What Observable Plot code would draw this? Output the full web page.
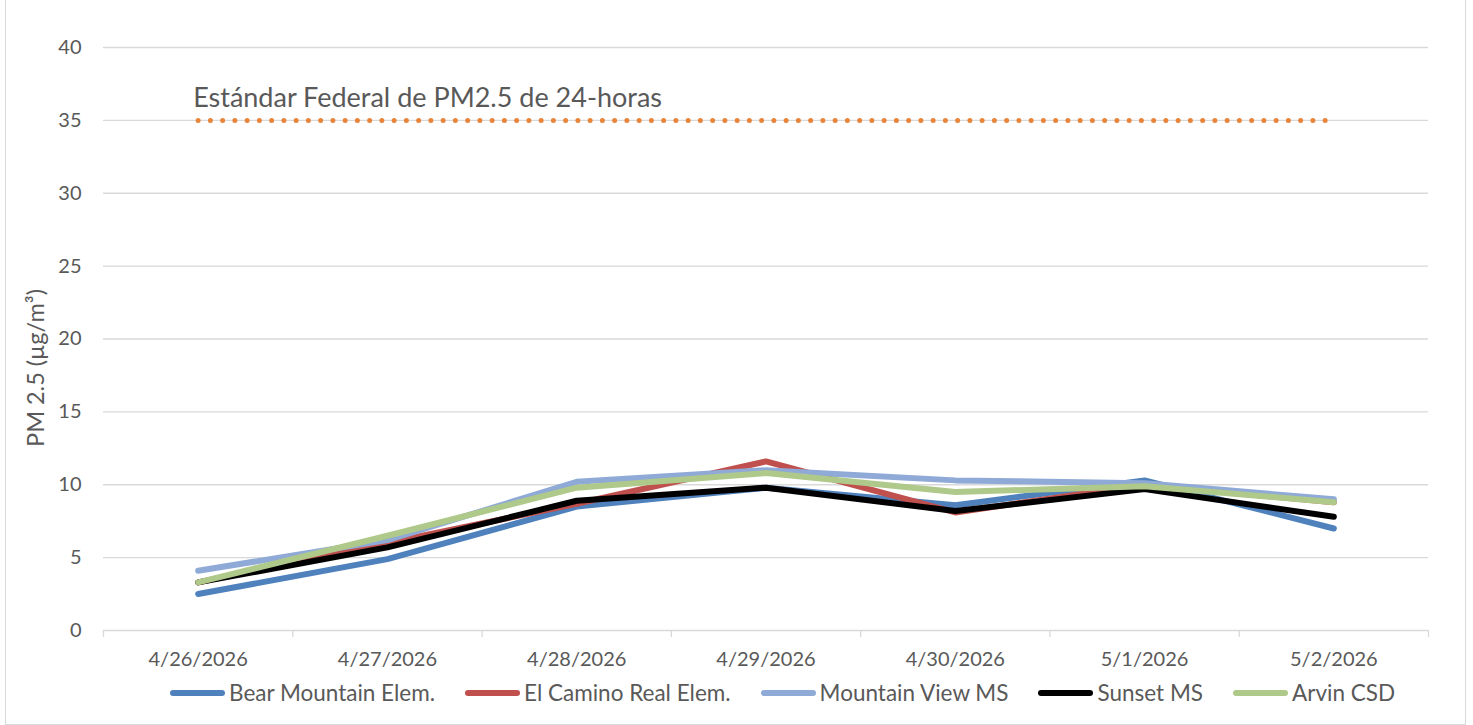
<!DOCTYPE html>
<html>
<head>
<meta charset="utf-8">
<script src="https://cdn.jsdelivr.net/npm/d3@7"></script>
<script src="https://cdn.jsdelivr.net/npm/@observablehq/plot@0.6"></script>
<style>
  html, body { margin: 0; padding: 0; background: #fff; }
  body { width: 1473px; height: 725px; position: relative; overflow: hidden; font-family: Lato, "Open Sans", sans-serif; }
  #frame { position: absolute; left: 5px; top: -1px; width: 1461px; height: 726px; border: 1px solid #d9d9d9; box-sizing: border-box; pointer-events: none; }
  #chart { position: absolute; left: 0; top: 0; }
  #legend { position: absolute; left: 170px; top: 679px; display: flex; align-items: center; gap: 30px; font-size: 22.5px; color: #595959; white-space: nowrap; }
  .item { display: flex; align-items: center; gap: 4px; }
  .sw { width: 55px; height: 6px; border-radius: 3px; }
</style>
</head>
<body>
<div id="chart"></div>
<div id="legend"></div>
<div id="frame"></div>
<script>
const dates = ["4/26/2026", "4/27/2026", "4/28/2026", "4/29/2026", "4/30/2026", "5/1/2026", "5/2/2026"];
const seriesNames = ["Bear Mountain Elem.", "El Camino Real Elem.", "Mountain View MS", "Sunset MS", "Arvin CSD"];
const seriesColors = ["#4F81BD", "#C0504D", "#8FAAD6", "#000000", "#AFC98A"];
const bearMountain = [2.5, 4.9, 8.5, 9.8, 8.6, 10.3, 7.0];
const elCamino     = [3.3, 6.0, 8.7, 11.6, 8.1, 10.0, 8.8];
const mountainView = [4.1, 6.2, 10.2, 11.0, 10.3, 10.1, 9.0];
const sunset       = [3.3, 5.7, 8.9, 9.8, 8.2, 9.7, 7.8];
const arvin        = [3.3, 6.5, 9.8, 10.8, 9.5, 9.9, 8.8];
const federalStandard = [35, 35, 35, 35, 35, 35, 35];
const standardLabel = "Estándar Federal de PM2.5 de 24-horas";
const yLabel = "PM 2.5 (µg/m³)";
const yTicks = [0, 5, 10, 15, 20, 25, 30, 35, 40];

const allSeries = [bearMountain, elCamino, mountainView, sunset, arvin];
const rows = [];
allSeries.forEach((vals, s) => vals.forEach((v, i) => rows.push({series: seriesNames[s], i, v})));
const stdRows = federalStandard.map((v, i) => ({i, v}));
const idx = dates.map((d, i) => i);
const bounds = [-0.5, ...idx.map(i => i + 0.5)];

const textColor = "#595959";
const grid = "#d9d9d9";

const plot = Plot.plot({
  width: 1473,
  height: 680,
  marginLeft: 103,
  marginRight: 45,
  marginTop: 47,
  marginBottom: 50,
  style: {fontFamily: "Lato, 'Open Sans', sans-serif", color: textColor, background: "transparent"},
  x: {type: "linear", domain: [-0.5, dates.length - 0.5]},
  y: {domain: [0, 40]},
  color: {domain: seriesNames, range: seriesColors},
  marks: [
    Plot.ruleY(yTicks, {stroke: grid, strokeWidth: 1.3}),
    Plot.axisY({ticks: yTicks, tickSize: 0, tickPadding: 22, fontSize: 20, label: null, fill: textColor}),
    Plot.axisX({ticks: bounds, tickSize: 7, tickFormat: () => "", stroke: grid, strokeWidth: 1.3, label: null}),
    Plot.axisX({ticks: idx, tickSize: 0, tickPadding: 21, tickFormat: i => dates[i], fontSize: 20, label: null, fill: textColor}),
    Plot.text([yLabel], {frameAnchor: "left", rotate: -90, dx: -67, dy: 29, textAnchor: "middle", lineAnchor: "middle", fontSize: 23.5, fill: textColor}),
    Plot.line(stdRows, {x: "i", y: "v", stroke: "#E8853A", strokeWidth: 5, strokeLinecap: "round", strokeDasharray: "0,12.25"}),
    Plot.text([standardLabel], {x: () => 0, y: () => 35, text: d => d, textAnchor: "start", lineAnchor: "middle", dx: -5, dy: -22, fontSize: 27, fill: textColor}),
    Plot.line(rows, {x: "i", y: "v", z: "series", stroke: "series", strokeWidth: 6, strokeLinejoin: "round", strokeLinecap: "round"})
  ]
});
document.getElementById("chart").appendChild(plot);

const legend = document.getElementById("legend");
seriesNames.forEach((n, k) => {
  const it = document.createElement("div");
  it.className = "item";
  const sw = document.createElement("div");
  sw.className = "sw";
  sw.style.background = seriesColors[k];
  const t = document.createElement("span");
  t.textContent = n;
  it.appendChild(sw); it.appendChild(t);
  legend.appendChild(it);
});
</script>
</body>
</html>
